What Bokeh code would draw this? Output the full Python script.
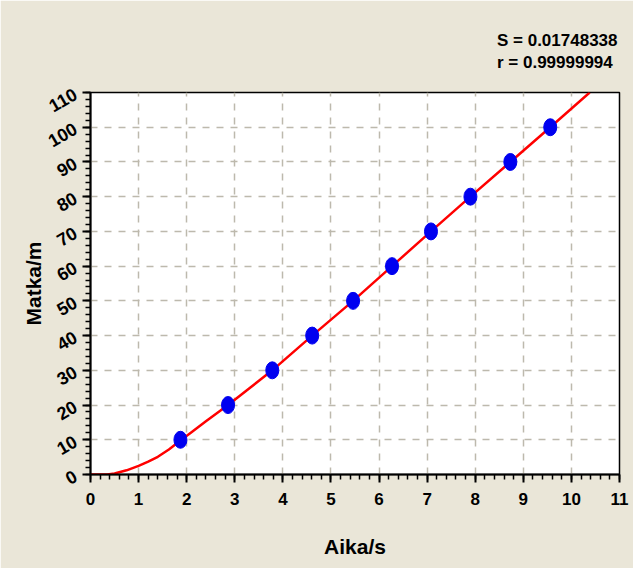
from bokeh.plotting import figure
from bokeh.models import Range1d, SingleIntervalTicker, Title
from bokeh.embed import file_html
from bokeh.resources import INLINE
import math

# measured data (time in s, distance in m)
aika = [1.87, 2.86, 3.78, 4.61, 5.46, 6.27, 7.08, 7.90, 8.73, 9.56]
matka = [10, 20, 30, 40, 50, 60, 70, 80, 90, 100]

# fitted curve
kayra_x = [0, 0.35, 0.5, 0.75, 1.0, 1.2, 1.4, 1.63, 1.87, 2.1, 2.4, 2.86, 3.78,
           4.61, 5.46, 6.27, 7.08, 7.90, 8.73, 9.56, 10.38]
kayra_y = [0, 0, 0.3, 1.2, 2.5, 3.7, 5.1, 7.2, 9.8, 12.2, 15.3, 20, 30,
           40, 50, 60, 70, 80, 90, 100, 110]

stat_lines = ["S = 0.01748338", "r = 0.99999994"]

FONT = "Liberation Sans"
BG = "#EAE6D8"

p = figure(width=633, height=568, output_backend="svg", toolbar_location=None,
           x_range=Range1d(0, 11), y_range=Range1d(0, 110),
           min_border_left=90, min_border_right=14, min_border_top=92, min_border_bottom=94)
p.border_fill_color = BG
p.background_fill_color = "white"
p.outline_line_color = "black"
p.outline_line_width = 1.5

p.xaxis.ticker = SingleIntervalTicker(interval=1, num_minor_ticks=5)
p.yaxis.ticker = SingleIntervalTicker(interval=10, num_minor_ticks=5)

for ax in (p.xaxis, p.yaxis):
    ax.axis_line_width = 2
    ax.axis_line_color = "black"
    ax.major_tick_line_width = 2
    ax.major_tick_out = 8
    ax.major_tick_in = 0
    ax.minor_tick_line_width = 1.5
    ax.minor_tick_out = 5
    ax.minor_tick_in = 0
    ax.major_label_text_font = FONT
    ax.major_label_text_font_style = "bold"
    ax.major_label_text_font_size = "17px"
    ax.major_label_text_color = "black"
    ax.axis_label_text_font = FONT
    ax.axis_label_text_font_style = "bold"
    ax.axis_label_text_font_size = "21px"
    ax.axis_label_text_color = "black"

p.yaxis.major_label_text_font_size = "18px"
p.xaxis.major_label_standoff = 10
p.yaxis.major_label_standoff = 7
p.yaxis.major_label_orientation = math.radians(30)
p.xaxis.axis_label = "Aika/s"
p.yaxis.axis_label = "Matka/m"
p.xaxis.axis_label_standoff = 27
p.yaxis.axis_label_standoff = -5

for g in (p.xgrid, p.ygrid):
    g.grid_line_color = "#BDB9AD"
    g.grid_line_width = 1.5
    g.grid_line_dash = "7 7"

p.line(kayra_x, kayra_y, line_color="#FF0000", line_width=2.5)
p.ellipse(aika, matka, width=13, height=17, width_units="screen", height_units="screen",
          fill_color="#0000F0", line_color="#0000F0")

p.add_layout(Title(text="\n".join(stat_lines), align="right", offset=2, standoff=41,
                   text_line_height=1.18,
                   text_font=FONT, text_font_style="bold", text_font_size="17px",
                   text_color="black"), "above")

open("out.html", "w").write(file_html(p, INLINE))
